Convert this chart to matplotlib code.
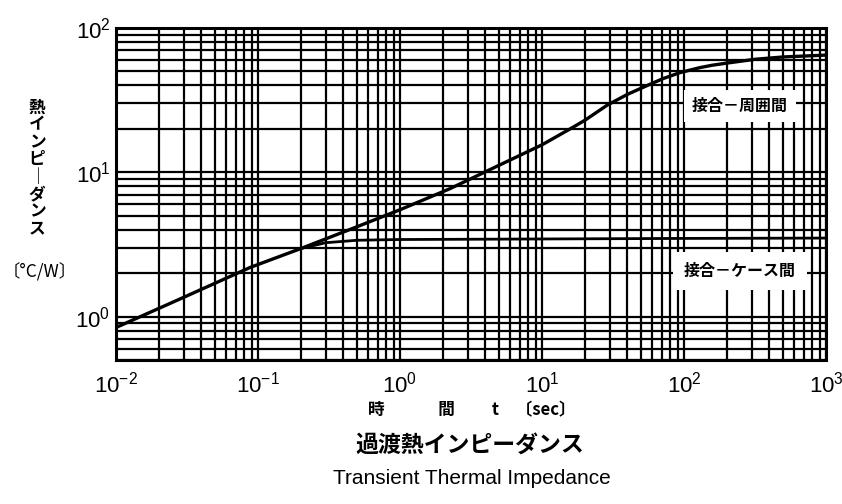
import numpy as np
import matplotlib.pyplot as plt
from matplotlib.ticker import LogLocator, NullFormatter, FixedLocator

# Datos (t en s, Z en °C/W)
t_ja = [0.01, 0.03, 0.088, 0.2, 0.5, 1.0, 2.25, 5.0, 10, 15.8, 20, 28.8, 40, 57.5,
        70.8, 93.3, 129, 158, 200, 316, 500, 1000]
z_ja = [0.84, 1.36, 2.19, 2.96, 4.2, 5.5, 7.7, 11.2, 15.5, 20.0, 22.9, 29.2, 34.7, 40.7,
        44.5, 49.0, 53.1, 55.2, 57.1, 60.7, 63.0, 64.9]

t_jc = [0.2, 0.3, 0.5, 1, 10, 100, 1000]
z_jc = [2.96, 3.25, 3.38, 3.42, 3.45, 3.48, 3.5]

x_ticks = [1e-2, 1e-1, 1e0, 1e1, 1e2, 1e3]
x_labels = ['-2', '-1', '0', '1', '2', '3']
y_ticks = [1e0, 1e1, 1e2]
y_labels = ['0', '1', '2']

jp = ['Noto Sans CJK JP', 'DejaVu Sans']
num = ['Liberation Sans', 'DejaVu Sans']

fig = plt.figure(figsize=(8.42, 5.04), dpi=100)
ax = fig.add_axes([116 / 842, 1 - 360 / 504, 710 / 842, 332 / 504])
ax.set_xscale('log')
ax.set_yscale('log')
ax.set_xlim(1e-2, 1e3)
ax.set_ylim(0.5, 100)

# rejilla logarítmica completa
ax.xaxis.set_major_locator(FixedLocator(x_ticks))
ax.xaxis.set_minor_locator(LogLocator(base=10, subs=np.arange(2, 10)))
ax.yaxis.set_major_locator(FixedLocator(y_ticks))
ax.yaxis.set_minor_locator(LogLocator(base=10, subs=np.arange(2, 10)))
ax.xaxis.set_minor_formatter(NullFormatter())
ax.yaxis.set_minor_formatter(NullFormatter())
ax.grid(which='both', color='black', linewidth=1.6)
ax.tick_params(which='both', length=0)
for s in ax.spines.values():
    s.set_linewidth(2.2)

ax.set_xticklabels([r'$\mathregular{10^{%s}}$' % l for l in x_labels],
                   family=num, fontsize=16)
ax.set_yticklabels([r'$\mathregular{10^{%s}}$' % l for l in y_labels],
                   family=num, fontsize=16)
ax.tick_params(axis='x', pad=8)
ax.tick_params(axis='y', pad=4)

ax.plot(t_ja, z_ja, color='black', linewidth=2.4, zorder=5)
ax.plot(t_jc, z_jc, color='black', linewidth=2.0, zorder=5)

ax.annotate('接合－周囲間', xy=(740, 504 - 106), xycoords='figure pixels',
            ha='center', va='center', family=jp, fontsize=11.5, fontweight='bold',
            bbox=dict(facecolor='white', edgecolor='none', pad=6), zorder=6)
ax.annotate('接合－ケース間', xy=(740, 504 - 271), xycoords='figure pixels',
            ha='center', va='center', family=jp, fontsize=11.5, fontweight='bold',
            bbox=dict(facecolor='white', edgecolor='none', pad=8), zorder=6)

# etiqueta vertical del eje y
fig.text(37 / 842, 1 - 168 / 504, '\n'.join('熱インピ｜ダンス'), family=jp,
         fontsize=12, fontweight='bold', ha='center', va='center', linespacing=0.95)
fig.text(40 / 842, 1 - 272 / 504, '〔°C/W〕', family=jp, fontsize=12.5,
         ha='center', va='center')

fig.text(472 / 842, 1 - 410 / 504, '時　　　 間　　 t　〔sec〕', family=jp,
         fontsize=12, fontweight='bold', ha='center', va='center')
fig.text(470 / 842, 1 - 445 / 504, '過渡熱インピーダンス', family=jp,
         fontsize=16.5, fontweight='bold', ha='center', va='center')
fig.text(472 / 842, 1 - 478 / 504, 'Transient Thermal Impedance',
         family=['Liberation Sans', 'DejaVu Sans'], fontsize=15,
         ha='center', va='center')

fig.savefig('out.png', dpi=100)
